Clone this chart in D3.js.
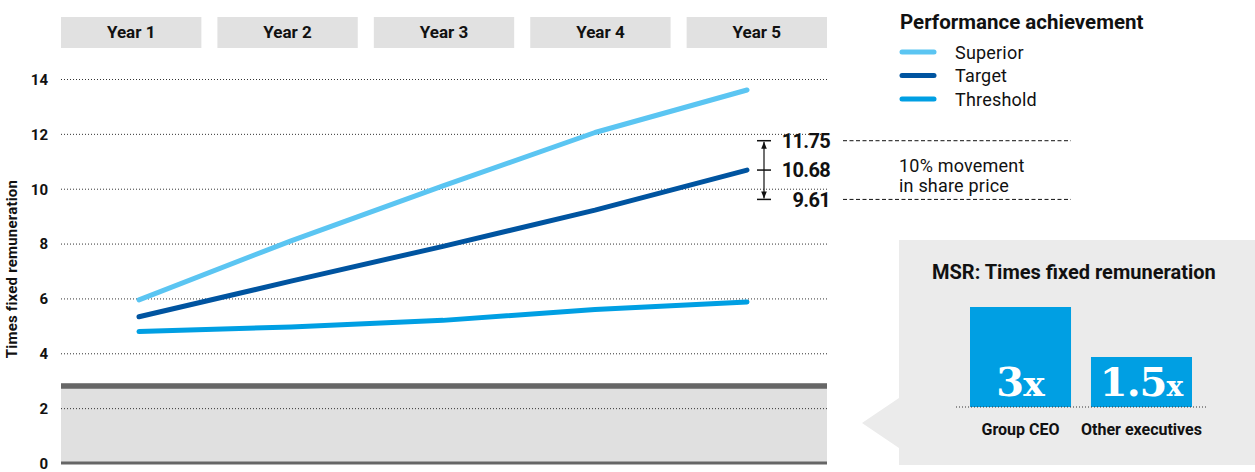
<!DOCTYPE html>
<html>
<head>
<meta charset="utf-8">
<script src="https://cdn.jsdelivr.net/npm/d3@7"></script>
<style>
  html, body { margin: 0; padding: 0; background: #fff; }
  svg { display: block; font-family: Roboto, "Noto Sans", sans-serif; }
</style>
</head>
<body>
<svg id="chart" width="1255" height="472"></svg>
<script>
// ---- data ----
const years = ["Year 1", "Year 2", "Year 3", "Year 4", "Year 5"];
const seriesNames = ["Superior", "Target", "Threshold"];
const superior = [5.95, 8.1, 10.1, 12.05, 13.6];
const target = [5.33, 6.63, 7.9, 9.22, 10.68];
const threshold = [4.79, 4.96, 5.2, 5.6, 5.87];
const yTicks = [0, 2, 4, 6, 8, 10, 12, 14];
const shareRange = [11.75, 10.68, 9.61];
const shareNote = ["10% movement", "in share price"];
const floorValue = 2.9;
const msrGroups = ["Group CEO", "Other executives"];
const msrValues = [3, 1.5];
const msrLabels = [["3", "x"], ["1.5", "x"]];

const colors = { Superior: "#5bc5f2", Target: "#0054a0", Threshold: "#009fe3" };
const seriesData = { Superior: superior, Target: target, Threshold: threshold };

const svg = d3.select("#chart");

// ---- scales ----
const plotLeft = 61, plotRight = 827;
const y = d3.scaleLinear().domain([0, 14]).range([463, 79]);
const xBand = d3.scaleBand().domain(years).range([plotLeft, plotRight]).paddingInner(0.1026).paddingOuter(0);
const xPoint = d3.scalePoint().domain(years).range([139, 747]);

// ---- year header boxes ----
const head = svg.append("g");
head.selectAll("rect").data(years).join("rect")
  .attr("x", d => xBand(d)).attr("y", 17)
  .attr("width", xBand.bandwidth()).attr("height", 31)
  .attr("fill", "#e1e1e1");
head.selectAll("text").data(years).join("text")
  .attr("x", d => xBand(d) + xBand.bandwidth() / 2).attr("y", 38)
  .attr("text-anchor", "middle")
  .attr("font-size", 17).attr("font-weight", 700).attr("fill", "#111")
  .text(d => d);

// ---- grey floor band ----
svg.append("rect")
  .attr("x", plotLeft).attr("width", plotRight - plotLeft)
  .attr("y", y(floorValue)).attr("height", y(0) - y(floorValue))
  .attr("fill", "#e0e0e0");

// ---- grid lines ----
const gridG = svg.append("g")
  .attr("transform", `translate(${plotLeft},0)`)
  .call(d3.axisLeft(y).tickValues(yTicks).tickSize(-(plotRight - plotLeft)).tickFormat(""));
gridG.select(".domain").remove();
gridG.selectAll(".tick line")
  .attr("stroke", "#333").attr("stroke-width", 1).attr("stroke-dasharray", "1,2");
gridG.selectAll(".tick").filter(d => d === 0).remove();

// floor border lines
svg.append("line")
  .attr("x1", plotLeft).attr("x2", plotRight)
  .attr("y1", y(floorValue) + 2.5).attr("y2", y(floorValue) + 2.5)
  .attr("stroke", "#666").attr("stroke-width", 5.5);
svg.append("line")
  .attr("x1", plotLeft).attr("x2", plotRight)
  .attr("y1", y(0)).attr("y2", y(0))
  .attr("stroke", "#666").attr("stroke-width", 3);

// ---- y tick labels ----
const yAxisG = svg.append("g")
  .attr("transform", "translate(48,0)")
  .call(d3.axisLeft(y).tickValues(yTicks).tickSize(0).tickPadding(0));
yAxisG.select(".domain").remove();
yAxisG.selectAll(".tick text")
  .attr("font-family", "Roboto, sans-serif")
  .attr("font-size", 15).attr("font-weight", 700).attr("fill", "#111")
  .attr("dy", "0.36em");

// y axis title
svg.append("text")
  .attr("transform", "translate(17,269) rotate(-90)")
  .attr("text-anchor", "middle")
  .attr("font-size", 15).attr("font-weight", 700).attr("fill", "#111")
  .attr("letter-spacing", 0.2)
  .text("Times fixed remuneration");

// ---- lines ----
const line = d3.line().x((d, i) => xPoint(years[i])).y(d => y(d));
svg.append("g").selectAll("path").data(seriesNames.slice().reverse()).join("path")
  .attr("d", d => line(seriesData[d]))
  .attr("fill", "none")
  .attr("stroke", d => colors[d])
  .attr("stroke-width", 5)
  .attr("stroke-linecap", "round")
  .attr("stroke-linejoin", "round");

// ---- legend ----
const legend = svg.append("g");
legend.append("text")
  .attr("x", 900).attr("y", 29)
  .attr("font-size", 20.5).attr("font-weight", 700).attr("fill", "#111")
  .text("Performance achievement");
const legItems = legend.selectAll("g.item").data(seriesNames).join("g")
  .attr("class", "item")
  .attr("transform", (d, i) => `translate(0,${52 + i * 23.5})`);
legItems.append("line")
  .attr("x1", 902).attr("x2", 934).attr("y1", 0).attr("y2", 0)
  .attr("stroke", d => colors[d]).attr("stroke-width", 5).attr("stroke-linecap", "round");
legItems.append("text")
  .attr("x", 955).attr("y", 6.5)
  .attr("font-size", 18).attr("fill", "#111")
  .attr("letter-spacing", 0.2)
  .text(d => d);

// ---- share price movement annotation ----
const ann = svg.append("g");
const bx = 764;
const defs = svg.append("defs");
defs.append("marker").attr("id", "arrow")
  .attr("viewBox", "0 0 10 10").attr("refX", 10).attr("refY", 5)
  .attr("markerWidth", 7).attr("markerHeight", 7).attr("orient", "auto-start-reverse")
  .attr("markerUnits", "userSpaceOnUse")
  .append("path").attr("d", "M0,1 L10,5 L0,9 Z").attr("fill", "#111");
ann.append("line")
  .attr("x1", bx).attr("x2", bx)
  .attr("y1", y(shareRange[0]) + 1).attr("y2", y(shareRange[2]) - 1)
  .attr("stroke", "#111").attr("stroke-width", 1.2)
  .attr("marker-start", "url(#arrow)").attr("marker-end", "url(#arrow)");
ann.selectAll("line.cap").data(shareRange).join("line")
  .attr("class", "cap")
  .attr("x1", bx - 7).attr("x2", bx + 7)
  .attr("y1", d => y(d)).attr("y2", d => y(d))
  .attr("stroke", "#111").attr("stroke-width", 1.5);
ann.selectAll("text.val").data(shareRange).join("text")
  .attr("class", "val")
  .attr("x", 830).attr("y", d => y(d)).attr("dy", "0.36em")
  .attr("text-anchor", "end")
  .attr("font-size", 20).attr("font-weight", 700).attr("fill", "#111")
  .attr("letter-spacing", -0.7)
  .text(d => d.toFixed(2));
ann.selectAll("line.dash").data([shareRange[0], shareRange[2]]).join("line")
  .attr("class", "dash")
  .attr("x1", 843).attr("x2", 1071)
  .attr("y1", d => y(d)).attr("y2", d => y(d))
  .attr("stroke", "#111").attr("stroke-width", 1).attr("stroke-dasharray", "4,2.5");
ann.selectAll("text.note").data(shareNote).join("text")
  .attr("class", "note")
  .attr("x", 899).attr("y", (d, i) => y(shareRange[1]) + 2 + i * 20)
  .attr("font-size", 18).attr("fill", "#111")
  .attr("letter-spacing", 0.2)
  .text(d => d);

// ---- MSR panel ----
const panel = svg.append("g");
panel.append("path")
  .attr("d", "M899,240 L1255,240 L1255,465 L899,465 L899,448 L862,423 L899,398 Z")
  .attr("fill", "#ebebeb");
panel.append("text")
  .attr("x", 932).attr("y", 279)
  .attr("font-size", 20).attr("font-weight", 700).attr("fill", "#111")
  .text("MSR: Times fixed remuneration");

const xMsr = d3.scaleBand().domain(msrGroups).range([970, 1192]).paddingInner(0.165).paddingOuter(0);
const yMsr = d3.scaleLinear().domain([0, 3]).range([407, 307]);

panel.selectAll("rect.bar").data(msrGroups).join("rect")
  .attr("class", "bar")
  .attr("x", d => xMsr(d)).attr("width", xMsr.bandwidth())
  .attr("y", (d, i) => yMsr(msrValues[i]))
  .attr("height", (d, i) => yMsr(0) - yMsr(msrValues[i]))
  .attr("fill", "#009fe3");
panel.append("line")
  .attr("x1", 956).attr("x2", 1207).attr("y1", yMsr(0)).attr("y2", yMsr(0))
  .attr("stroke", "#333").attr("stroke-width", 1).attr("stroke-dasharray", "1,2");

const barText = panel.selectAll("text.bv").data(msrGroups).join("text")
  .attr("class", "bv")
  .attr("x", d => xMsr(d) + xMsr.bandwidth() / 2).attr("y", 396)
  .attr("text-anchor", "middle")
  .attr("font-family", "'DejaVu Serif', serif")
  .attr("font-weight", 700).attr("fill", "#fff");
barText.append("tspan")
  .attr("font-size", 40).attr("letter-spacing", -1)
  .text((d, i) => msrLabels[i][0]);
barText.append("tspan")
  .attr("font-size", (d, i) => i === 0 ? 36 : 28)
  .text((d, i) => msrLabels[i][1]);

panel.selectAll("text.cat").data(msrGroups).join("text")
  .attr("class", "cat")
  .attr("x", d => xMsr(d) + xMsr.bandwidth() / 2).attr("y", 435)
  .attr("text-anchor", "middle")
  .attr("font-size", 16).attr("font-weight", 700).attr("fill", "#111")
  .text(d => d);
</script>
</body>
</html>
